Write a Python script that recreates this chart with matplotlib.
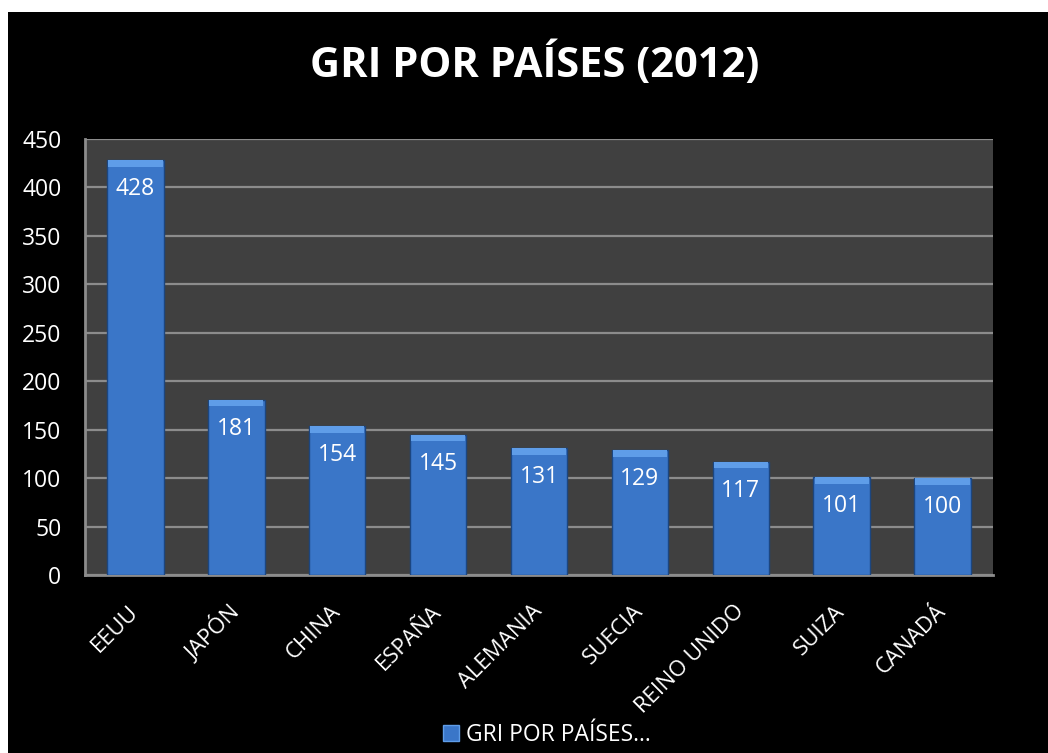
import matplotlib.pyplot as plt
from matplotlib.patches import Rectangle

# datos
paises = ["EEUU", "JAPÓN", "CHINA", "ESPAÑA", "ALEMANIA", "SUECIA", "REINO UNIDO", "SUIZA", "CANADÁ"]
gri = [428, 181, 154, 145, 131, 129, 117, 101, 100]
yticks = [0, 50, 100, 150, 200, 250, 300, 350, 400, 450]

plt.rcParams['font.family'] = ['Open Sans', 'DejaVu Sans']

fig = plt.figure(figsize=(10.48, 7.53), dpi=100)
fig.patch.set_facecolor('white')
# fondo negro (con un borde blanco arriba y a la izquierda)
fig.add_artist(Rectangle((8 / 1048, 0), 1, 1 - 12 / 753, transform=fig.transFigure,
                         facecolor='black', edgecolor='none', zorder=-10))

ax = fig.add_axes([85 / 1048, 1 - 575 / 753, 908 / 1048, 436 / 753])
ax.set_facecolor('#404040')

x = range(len(paises))
bars = ax.bar(x, gri, width=0.56, color='#3a76c8', edgecolor='#1c4680', linewidth=1.0, zorder=3)
# tapa biselada
for b, v in zip(bars, gri):
    ax.bar(b.get_x() + b.get_width() / 2, 7, bottom=v - 7, width=b.get_width() * 0.96,
           color='#5f9de8', edgecolor='none', zorder=4)
    ax.annotate(str(v), (b.get_x() + b.get_width() / 2, v), xytext=(0, -21),
                textcoords='offset points', ha='center', va='center',
                color='white', fontsize=16.5, zorder=5)

ax.set_ylim(0, 450)
ax.set_xlim(-0.5, len(paises) - 0.5)
ax.set_yticks(yticks)
ax.set_yticklabels([str(t) for t in yticks], color='white', fontsize=16.5)
ax.set_xticks(list(x))
ax.set_xticklabels(paises, rotation=45, ha='right', va='center', rotation_mode='anchor',
                   color='white', fontsize=16)
ax.tick_params(axis='y', length=0, pad=17)
ax.tick_params(axis='x', length=0, pad=24)
ax.yaxis.grid(True, color='#8c8c8c', linewidth=1.6, zorder=1)
ax.set_axisbelow(True)
for s in ['top', 'right']:
    ax.spines[s].set_visible(False)
for s in ['left', 'bottom']:
    ax.spines[s].set_color('#8c8c8c')
    ax.spines[s].set_linewidth(2)

fig.text(0.51, 1 - 65 / 753, "GRI POR PAÍSES (2012)", ha='center', va='center',
         color='white', fontsize=30, fontweight='bold')

handle = Rectangle((0, 0), 1, 1, facecolor='#3a76c8', edgecolor='#5f9de8')
fig.legend([handle], ["GRI POR PAÍSES…"], loc='center', bbox_to_anchor=(547 / 1048, 1 - 735 / 753),
           frameon=False, labelcolor='white', fontsize=16.5, handlelength=0.7,
           handleheight=0.7, handletextpad=0.3)

fig.savefig('out.png', dpi=100, facecolor=fig.get_facecolor())
